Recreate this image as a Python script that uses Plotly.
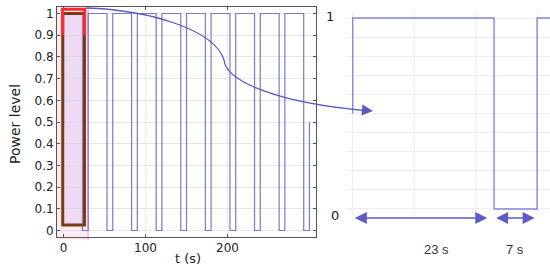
import plotly.graph_objects as go

W, H = 550, 269

# square wave (23 s on, 7 s off)
t_left = [0, 0, 23, 23, 30, 30, 53, 53, 60, 60, 83, 83, 90, 90, 113, 113,
          120, 120, 143, 143, 150, 150, 173, 173, 180, 180, 203, 203,
          210, 210, 233, 233, 240, 240, 263, 263, 270, 270, 293, 293, 300, 300]
p_left = [0.5, 1, 1, 0, 0, 1, 1, 0, 0, 1, 1, 0, 0, 1, 1, 0,
          0, 1, 1, 0, 0, 1, 1, 0, 0, 1, 1, 0,
          0, 1, 1, 0, 0, 1, 1, 0, 0, 1, 1, 0, 0, 0.5]

# zoomed first period (right panel)
t_zoom = [0, 0, 23, 23, 30, 30, 32.5]
p_zoom = [0.5, 1, 1, 0, 0, 1, 1]

y_ticks = [0, 0.1, 0.2, 0.3, 0.4, 0.5, 0.6, 0.7, 0.8, 0.9, 1]
y_labels = ["0", "0.1", "0.2", "0.3", "0.4", "0.5", "0.6", "0.7", "0.8", "0.9", "1"]
x_ticks = [0, 100, 200]

on_label, off_label = "23 s", "7 s"


def px(x, y):
    """pixel -> paper coords"""
    return x / W, 1 - y / H


fig = go.Figure()
fig.add_trace(go.Scatter(x=t_left, y=p_left, mode="lines",
                         line=dict(color="#7b7bc4", width=1.2),
                         xaxis="x", yaxis="y", showlegend=False))
fig.add_trace(go.Scatter(x=t_zoom, y=p_zoom, mode="lines",
                         line=dict(color="#8486dc", width=1.4),
                         xaxis="x2", yaxis="y2", showlegend=False))

shapes = []
# pink highlight band
x0p, y0p = px(0, 240)
x1p, y1p = px(0, 7)
shapes.append(dict(type="rect", xref="x", yref="paper", x0=-8, x1=30, y0=y0p, y1=y1p,
                   fillcolor="rgba(255,80,160,0.12)", line=dict(width=0), layer="below"))
shapes.append(dict(type="line", xref="x", yref="paper", x0=30, x1=30, y0=y0p, y1=y1p,
                   line=dict(color="rgba(220,60,200,0.5)", width=1)))
# brown box
shapes.append(dict(type="rect", xref="x", yref="y", x0=-1, x1=25.5, y0=0.025, y1=1.0,
                   fillcolor="rgba(200,185,245,0.3)",
                   line=dict(color="#7a3a12", width=3)))
# red top edge
shapes.append(dict(type="path", xref="x", yref="y",
                   path="M -1.2,0.9 L -1.2,1.02 L 25.7,1.02 L 25.7,0.9",
                   line=dict(color="#ff2a2a", width=3)))


def seg(points):
    return " ".join(f"{px(x, y)[0]:.5f},{px(x, y)[1]:.5f}" for x, y in points)


# curved connector
curve = ("M " + seg([(86, 8)]) +
         " C " + seg([(150, 10), (215, 30), (224, 60)]) +
         " C " + seg([(226, 82), (280, 103), (364, 110.5)]))
shapes.append(dict(type="path", xref="paper", yref="paper", path=curve,
                   line=dict(color="#5a5ac0", width=1.3)))

annotations = []
hx, hy = px(373, 111)
annotations.append(dict(xref="paper", yref="paper", x=hx, y=hy, ax=-12, ay=-1,
                        showarrow=True, arrowhead=2, arrowsize=1.7, arrowwidth=1.3,
                        arrowcolor="#5a5ac0", text=""))

# double arrows under the zoomed wave
ya = px(0, 218)[1]
annotations.append(dict(xref="x2", yref="paper", x=21.9, y=ya, ax=-134, ay=0,
                        showarrow=True, arrowhead=2, startarrowhead=2, arrowside="end+start",
                        arrowsize=1.5, startarrowsize=1.5, arrowwidth=1.6,
                        arrowcolor="#5b5bc8", text=""))
annotations.append(dict(xref="x2", yref="paper", x=29.6, y=ya, ax=-40, ay=0,
                        showarrow=True, arrowhead=2, startarrowhead=2, arrowside="end+start",
                        arrowsize=1.5, startarrowsize=1.5, arrowwidth=1.6,
                        arrowcolor="#5b5bc8", text=""))


def label(txt, x, y, font, angle=0):
    lx, ly = px(x, y)
    annotations.append(dict(xref="paper", yref="paper", x=lx, y=ly, text=txt,
                            xanchor="center", yanchor="middle", textangle=angle,
                            showarrow=False, font=font))


lab_font = dict(family="Liberation Sans, Arial", size=13, color="#333333")
label(on_label, 436, 249, lab_font)
label(off_label, 515, 249, lab_font)
side_font = dict(family="DejaVu Sans", size=13, color="#222")
label("1", 330, 17, side_font)
label("0", 335, 215, side_font)

# axis titles
label("t (s)", 188, 258, dict(family="DejaVu Sans", size=13, color="#222"))
label("Power level", 15, 124, dict(family="DejaVu Sans", size=14, color="#222"), angle=-90)

tick_font = dict(family="DejaVu Sans", size=12, color="#222222")

fig.update_layout(
    width=W, height=H,
    margin=dict(l=0, r=0, t=0, b=0, autoexpand=False),
    paper_bgcolor="white", plot_bgcolor="white",
    shapes=shapes, annotations=annotations,
    xaxis=dict(domain=[57 / W, 316 / W], range=[-8, 308], automargin=False,
               tickvals=x_ticks, ticks="inside", ticklen=3, tickcolor="#555",
               tickfont=tick_font, showline=True, linecolor="#555", linewidth=1, mirror="ticks",
               showgrid=True, gridcolor="#ececec", zeroline=False),
    yaxis=dict(domain=[1 - 237 / H, 1 - 7 / H], range=[-0.03, 1.03], automargin=False,
               tickvals=y_ticks, ticktext=y_labels, ticks="inside", ticklen=3, tickcolor="#555",
               tickfont=tick_font, showline=True, linecolor="#555", linewidth=1, mirror="ticks",
               showgrid=True, gridcolor="#e6e6e6", zeroline=False),
    xaxis2=dict(domain=[346 / W, 1], range=[-1.1, 32.1], anchor="y2", automargin=False,
                dtick=10, tick0=0, showticklabels=False, ticks="",
                showline=False, showgrid=True, gridcolor="#ececf2", zeroline=False),
    yaxis2=dict(domain=[1 - 214.7 / H, 1 - 12.3 / H], range=[-0.03, 1.03], anchor="x2",
                automargin=False,
                tickvals=y_ticks, showticklabels=False, ticks="",
                showline=False, showgrid=True, gridcolor="#ececf2", zeroline=False),
)

# page body has an 8px default margin; drop it so the figure sits at 0,0
fig.write_html("out.html", config={"displayModeBar": False},
               post_script="document.body.style.margin='0';")
